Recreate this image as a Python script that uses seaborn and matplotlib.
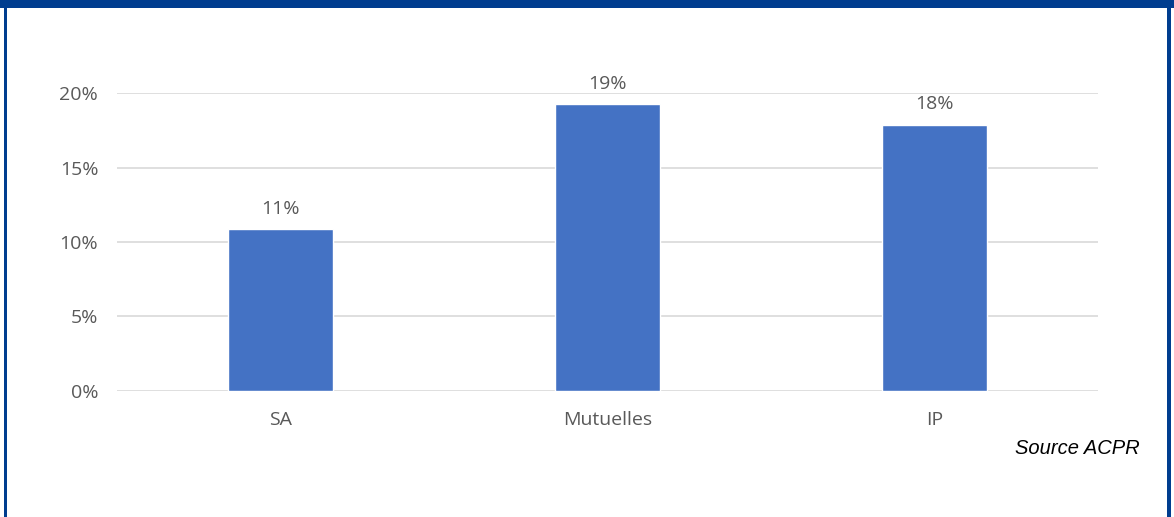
import matplotlib
matplotlib.use("Agg")
import matplotlib.pyplot as plt
import seaborn as sns
import pandas as pd
from matplotlib.patches import Rectangle
from matplotlib.ticker import FuncFormatter, MultipleLocator

categories = ["SA", "Mutuelles", "IP"]
values = [0.109, 0.193, 0.179]
value_labels = ["11%", "19%", "18%"]
source_text = "Source ACPR"

sns.set_theme(style="white")
plt.rcParams["font.family"] = ["Open Sans", "DejaVu Sans"]

W, H = 1174, 517
fig = plt.figure(figsize=(W / 100, H / 100), dpi=100)
ax = fig.add_axes([117 / W, 1 - 390.7 / H, (1098 - 117) / W, (390.7 - 93.3) / H])

df = pd.DataFrame({"cat": categories, "val": values})
sns.barplot(data=df, x="cat", y="val", color="#4472C4", width=0.322,
            saturation=1, ax=ax, zorder=3)

ax.set_ylim(0, 0.2)
ax.yaxis.set_major_locator(MultipleLocator(0.05))
ax.yaxis.set_major_formatter(FuncFormatter(lambda v, p: f"{v*100:.0f}%"))
ax.grid(axis="y", color="#D9D9D9", linewidth=1.2, zorder=0)
ax.set_axisbelow(True)
for s in ax.spines.values():
    s.set_visible(False)
ax.set_xlabel("")
ax.set_ylabel("")
ax.tick_params(axis="y", length=0, pad=13.5, labelsize=14, labelcolor="#595959")
ax.tick_params(axis="x", length=0, pad=14.5, labelsize=14, labelcolor="#595959")

ax.bar_label(ax.containers[0], labels=value_labels, padding=8,
             fontsize=14, color="#595959", clip_on=False)

fig.text(1140 / W, 1 - 449 / H, source_text, ha="right", va="center",
         fontsize=14.5, style="italic", family="Liberation Sans", color="black")

border = "#003D8F"
fig.patches.append(Rectangle((0, 1 - 8 / H), 1, 8 / H, transform=fig.transFigure,
                             facecolor=border, edgecolor="none"))
fig.patches.append(Rectangle((4 / W, 0), 3 / W, 1, transform=fig.transFigure,
                             facecolor=border, edgecolor="none"))
fig.patches.append(Rectangle((1167 / W, 0), 4 / W, 1, transform=fig.transFigure,
                             facecolor=border, edgecolor="none"))

fig.savefig("out.png", dpi=100, facecolor="white")
